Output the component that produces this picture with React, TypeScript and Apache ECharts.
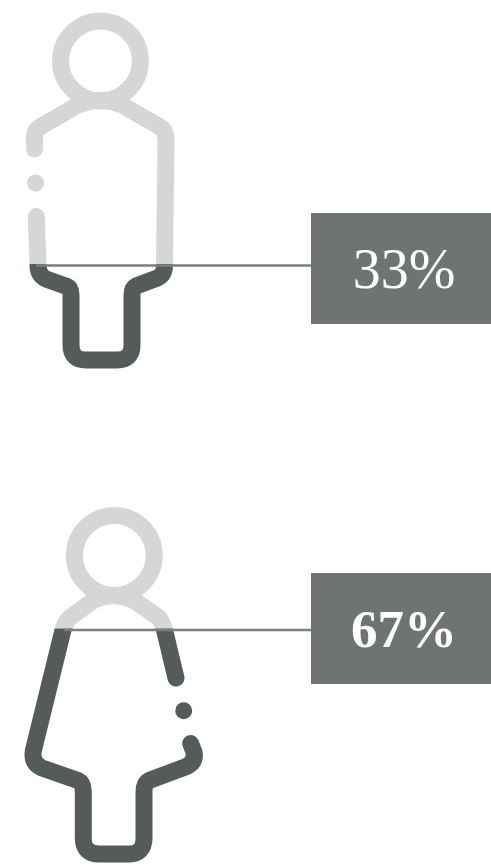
import React, { useEffect, useRef } from "react";
import * as echarts from "echarts";

const groups = ["Men", "Women"];
const shareLabels = ["33%", "67%"];
const levelY = [265.5, 630];
const boxTop = [213, 573];

const WIDTH = 491;
const HEIGHT = 865;
const LIGHT = "#d4d7d6";
const DARK = "#555b5b";
const BOX = "#6f7373";
const LEADER = "#7b7f7f";
const STROKE = 17;

const ring = (cx: number, cy: number, r: number) =>
  `M${cx - r} ${cy}A${r} ${r} 0 1 1 ${cx + r} ${cy}A${r} ${r} 0 1 1 ${cx - r} ${cy}Z`;

const iconPaths = [
  ring(100.5, 61, 39.9) +
    "M34.5 149V138Q34.5 130 40 127L76 106Q100 95 123 105.5L161 127.5Q166 131 166 140L164.5 265Q164.5 275 157.5 278L136 286Q132 288 132 295V345Q132 360 117 360H86Q71 360 71 345V295Q71 288 67 286.5L46 279Q38 275 38 265L36.3 216.5" +
    "M35.5 183h0.01",
  ring(114.3, 555.5, 39.9) +
    "M176 678L164.5 630Q162 621 158.5 617.5L135 601Q114 591 94 600L70 617.5Q65 622 63 630L33.5 750Q31 763 42 768L78 780.5Q83.3 783 83.3 792V838Q83.3 854 99 854H129Q144 854 144 838V792Q144 783 149 780.5L186.5 766.5Q196 762 194 752L190.7 743.5" +
    "M183.7 710.7h0.01",
];
const leaderStart = [36, 64];
const labelFonts = ['56px "Liberation Serif", serif', 'bold 53px "Liberation Serif", serif'];

function renderItem(_params: any, api: any) {
  const i = api.value(0);
  const [, cut] = api.coord([0, api.value(1)]);
  const [boxX, top] = api.coord([311, api.value(2)]);
  const [boxRight, bottom] = api.coord([WIDTH, api.value(2) + 111]);
  const [startX] = api.coord([leaderStart[i], 0]);
  const stroke = (color: string) => ({
    fill: "none",
    stroke: color,
    lineWidth: STROKE,
    lineCap: "round",
    lineJoin: "round",
  });
  const cutTop = cut - 1.5;
  return {
    type: "group",
    children: [
      {
        type: "group",
        clipPath: { type: "rect", shape: { x: 0, y: 0, width: WIDTH, height: cutTop } },
        children: [{ type: "path", shape: { pathData: iconPaths[i] }, style: stroke(LIGHT) }],
      },
      {
        type: "group",
        clipPath: { type: "rect", shape: { x: 0, y: cutTop, width: WIDTH, height: HEIGHT - cutTop } },
        children: [{ type: "path", shape: { pathData: iconPaths[i] }, style: stroke(DARK) }],
      },
      {
        type: "line",
        shape: { x1: startX, y1: cut, x2: boxX, y2: cut },
        style: { stroke: LEADER, lineWidth: 2.4 },
      },
      {
        type: "rect",
        shape: { x: boxX, y: top, width: boxRight - boxX, height: bottom - top },
        style: { fill: BOX },
      },
      {
        type: "text",
        x: (boxX + boxRight) / 2 + 3,
        y: (top + bottom) / 2 + 0.5,
        style: {
          text: shareLabels[i],
          fill: "#ffffff",
          font: labelFonts[i],
          align: "center",
          verticalAlign: "middle",
        },
      },
    ],
  };
}

export default function App() {
  const ref = useRef<HTMLDivElement>(null);
  useEffect(() => {
    document.body.style.margin = "0";
    const chart = echarts.init(ref.current!, undefined, { renderer: "svg" });
    chart.setOption({
      animation: false,
      grid: { left: 0, right: 0, top: 0, bottom: 0 },
      xAxis: { type: "value", min: 0, max: WIDTH, show: false },
      yAxis: { type: "value", min: 0, max: HEIGHT, inverse: true, show: false },
      series: [
        {
          type: "custom",
          coordinateSystem: "cartesian2d",
          clip: false,
          silent: true,
          renderItem,
          data: groups.map((_g, i) => [i, levelY[i], boxTop[i]]),
        },
      ],
    });
    return () => chart.dispose();
  }, []);
  return <div ref={ref} style={{ width: WIDTH, height: HEIGHT }} />;
}
